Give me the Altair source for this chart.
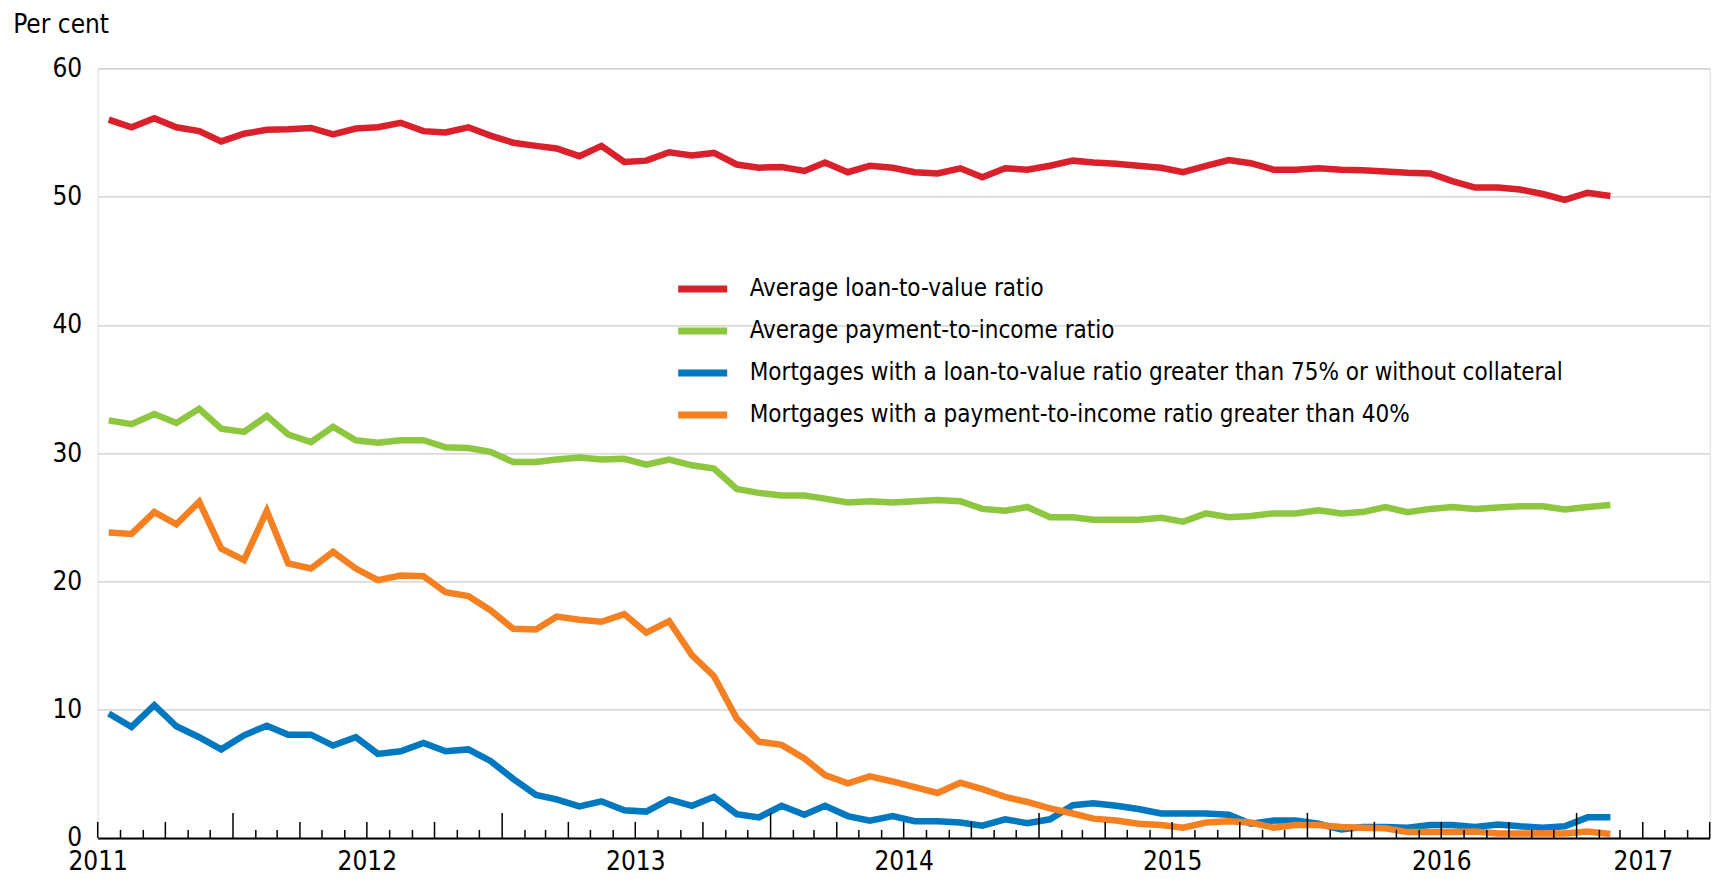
import altair as alt
import pandas as pd

# ---- data (monthly, Jul 2011 - Feb 2017) ----
months = [d.strftime("%Y-%m-16") for d in pd.date_range("2011-07-01", periods=68, freq="MS")]

series_names = [
    "Average loan-to-value ratio",
    "Average payment-to-income ratio",
    "Mortgages with a loan-to-value ratio greater than 75% or without collateral",
    "Mortgages with a payment-to-income ratio greater than 40%",
]
series_colors = ["#d9202b", "#8dc63f", "#0078c0", "#f58022"]

ltv_avg = [56.0, 55.4, 56.1, 55.4, 55.1, 54.3, 54.9, 55.2, 55.25, 55.35, 54.85, 55.3,
           55.4, 55.75, 55.1, 55.0, 55.4, 54.75, 54.2, 53.95, 53.75, 53.15, 53.95, 52.7,
           52.8, 53.45, 53.2, 53.4, 52.5, 52.25, 52.3, 52.0, 52.65, 51.9, 52.4, 52.25,
           51.9, 51.8, 52.2, 51.5, 52.2, 52.1, 52.4, 52.8, 52.65, 52.55, 52.4, 52.25,
           51.9, 52.4, 52.85, 52.6, 52.1, 52.1, 52.2, 52.1, 52.05, 51.95, 51.85, 51.8,
           51.2, 50.7, 50.7, 50.55, 50.2, 49.75, 50.3, 50.05]
pti_avg = [32.55, 32.25, 33.05, 32.35, 33.45, 31.9, 31.65, 32.9, 31.45, 30.85, 32.05, 31.0,
           30.8, 31.0, 31.0, 30.45, 30.4, 30.1, 29.3, 29.3, 29.5, 29.65, 29.5, 29.55,
           29.1, 29.5, 29.05, 28.8, 27.2, 26.9, 26.7, 26.7, 26.45, 26.15, 26.25, 26.15,
           26.25, 26.35, 26.25, 25.65, 25.5, 25.8, 25.0, 25.0, 24.8, 24.8, 24.8, 24.95,
           24.65, 25.3, 25.0, 25.1, 25.3, 25.3, 25.55, 25.3, 25.4, 25.8, 25.4, 25.65,
           25.8, 25.65, 25.75, 25.85, 25.85, 25.6, 25.8, 25.95]
ltv_high = [9.7, 8.65, 10.35, 8.7, 7.85, 6.9, 8.0, 8.75, 8.05, 8.05, 7.2, 7.85,
            6.55, 6.75, 7.4, 6.75, 6.9, 6.0, 4.6, 3.35, 3.0, 2.45, 2.85, 2.15,
            2.05, 3.0, 2.5, 3.2, 1.85, 1.6, 2.5, 1.8, 2.5, 1.7, 1.35, 1.7,
            1.3, 1.3, 1.2, 0.95, 1.45, 1.15, 1.45, 2.55, 2.7, 2.5, 2.25, 1.9,
            1.9, 1.9, 1.8, 1.1, 1.35, 1.35, 1.1, 0.65, 0.85, 0.85, 0.8, 1.0,
            1.0, 0.85, 1.05, 0.9, 0.8, 0.9, 1.6, 1.6]
pti_high = [23.8, 23.7, 25.4, 24.45, 26.2, 22.55, 21.65, 25.5, 21.4, 21.0, 22.3, 21.0,
            20.1, 20.45, 20.4, 19.15, 18.85, 17.75, 16.3, 16.25, 17.25, 17.0, 16.85, 17.45,
            16.0, 16.9, 14.25, 12.6, 9.3, 7.5, 7.25, 6.2, 4.9, 4.25, 4.8, 4.4,
            3.95, 3.5, 4.3, 3.8, 3.2, 2.8, 2.3, 1.9, 1.5, 1.35, 1.1, 1.0,
            0.8, 1.2, 1.3, 1.2, 0.8, 1.0, 1.0, 0.85, 0.8, 0.75, 0.45, 0.45,
            0.45, 0.5, 0.35, 0.35, 0.35, 0.35, 0.5, 0.3]

y_ticks = [0, 10, 20, 30, 40, 50, 60]
year_labels_at = [(2011, 7), (2012, 7), (2013, 7), (2014, 7), (2015, 7), (2016, 7), (2017, 4)]

# ---- build tables ----
rows = []
for name, vals in zip(series_names, [ltv_avg, pti_avg, ltv_high, pti_high]):
    for d, v in zip(months, vals):
        rows.append({"date": d, "series": name, "value": v})
df = pd.DataFrame(rows)

tick_dates = pd.date_range("2011-07-01", "2017-07-01", freq="MS")
tick_df = pd.DataFrame({
    "date": [d.strftime("%Y-%m-%d") for d in tick_dates],
    "kind": ["y" if d.month == 1 else ("q" if d.month in (4, 7, 10) else "m") for d in tick_dates],
})

FONT = "DejaVu Sans Condensed, Liberation Sans Narrow, Liberation Sans, sans-serif"
W, H = 1612, 769.6

xscale = alt.Scale(
    type="utc",
    domain=[alt.DateTime(year=2011, month=7, date=1, utc=True),
            alt.DateTime(year=2017, month=7, date=1, utc=True)],
)

lines = alt.Chart(df).mark_line(strokeWidth=6.5).encode(
    x=alt.X(
        "date:T",
        scale=xscale,
        axis=alt.Axis(
            values=[alt.DateTime(year=y, month=m, date=1, utc=True) for y, m in year_labels_at],
            labelExpr="utcFormat(datum.value, '%Y')",
            grid=False, ticks=False, tickSize=0,
            domain=True, domainColor="black", domainWidth=2,
            labelPadding=11, labelFontSize=26, labelFont=FONT, labelColor="black",
            labelFlush=False, labelOverlap=False, labelBound=False,
            title=None, zindex=2,
        ),
    ),
    y=alt.Y(
        "value:Q",
        scale=alt.Scale(domain=[0, 60], nice=False),
        axis=alt.Axis(
            values=y_ticks, grid=True, gridColor="#cccccc", gridWidth=1.2,
            domain=False, ticks=False, labelPadding=16,
            labelFontSize=26, labelFont=FONT, labelColor="black",
            title="Per cent", titleAngle=0, titleAlign="left", titleBaseline="alphabetic",
            titleX=-85, titleY=-36, titleFontSize=26, titleFont=FONT,
            titleFontWeight="normal", titleColor="black", zindex=0,
        ),
    ),
    color=alt.Color(
        "series:N",
        scale=alt.Scale(domain=series_names, range=series_colors),
        legend=alt.Legend(
            orient="none", legendX=577, legendY=200, title=None,
            symbolType="stroke", symbolStrokeWidth=7, symbolSize=2401,
            labelFontSize=24, labelFont=FONT, labelColor="black", labelLimit=2000,
            labelOffset=19, clipHeight=41.6, rowPadding=0, padding=0,
        ),
    ),
)

tick_base = alt.Chart(tick_df).mark_rule(color="black", strokeWidth=1.5)
ticks_m = tick_base.transform_filter("datum.kind == 'm'").encode(
    x=alt.X("date:T"), y=alt.value(H), y2=alt.value(H - 8))
ticks_q = tick_base.transform_filter("datum.kind == 'q'").encode(
    x=alt.X("date:T"), y=alt.value(H), y2=alt.value(H - 16))
ticks_y = tick_base.transform_filter("datum.kind == 'y'").encode(
    x=alt.X("date:T"), y=alt.value(H), y2=alt.value(H - 25))

chart = alt.layer(lines, ticks_m, ticks_q, ticks_y).properties(
    width=W, height=H,
    autosize=alt.AutoSizeParams(type="none"),
    padding={"left": 89.7, "top": 60.3, "right": 3, "bottom": 41},
).configure_view(stroke=None).configure(background="white")

chart.save("out.html", embed_options={"renderer": "svg", "actions": False})
